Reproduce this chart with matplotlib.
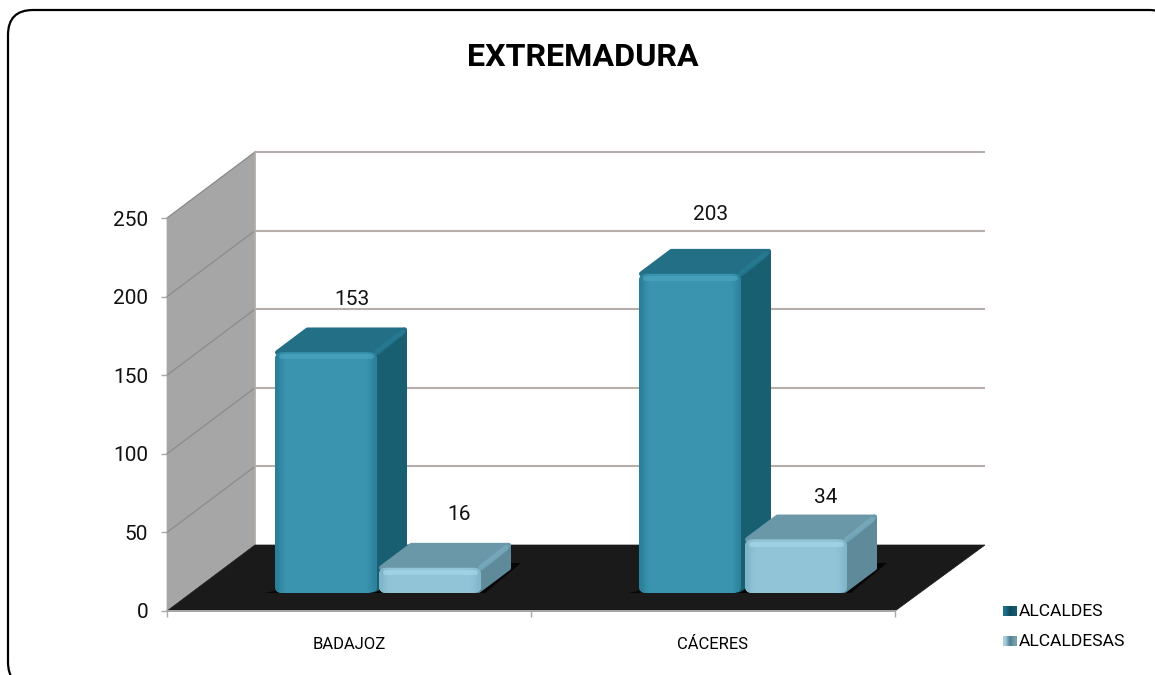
import numpy as np
import matplotlib
matplotlib.use("Agg")
import matplotlib.pyplot as plt
from matplotlib.colors import LinearSegmentedColormap
from matplotlib.patches import FancyBboxPatch, Polygon

# values
categories = ["BADAJOZ", "CÁCERES"]
series_names = ["ALCALDES", "ALCALDESAS"]
alcaldes = [153, 203]
alcaldesas = [16, 34]
y_ticks = [0, 50, 100, 150, 200, 250]

W, H = 1155, 675
plt.rcParams["font.family"] = ["Roboto", "DejaVu Sans"]

fig = plt.figure(figsize=(W / 100, H / 100), dpi=100)
fig.patch.set_facecolor("white")

# background layer in pixels, the frame runs off the right and bottom edges
bg = fig.add_axes([0, 0, 1, 1])
bg.set_xlim(0, W)
bg.set_ylim(H, 0)
bg.axis("off")
bg.add_patch(FancyBboxPatch((8, 10), 1166, 677, boxstyle="round,pad=0,rounding_size=25",
                            fc="white", ec="black", lw=1.6))

# front plane of the 3d chart: x in categories, y in chart values
left, right, bottom, top = 167, 895, 611, 218
ax = fig.add_axes([left / W, 1 - bottom / H, (right - left) / W, (bottom - top) / H])
ax.set_xlim(0, 2)
ax.set_ylim(0, 250)
ax.patch.set_alpha(0)
for s in ax.spines.values():
    s.set_visible(False)

# one pixel expressed in data units
px_x = 2 / (right - left)
px_y = 250 / (bottom - top)
depth_x = 88 * px_x
depth_y = 66 * px_y
clip = dict(clip_on=False)

# wall and floor
ax.add_patch(Polygon([(0, 0), (depth_x, depth_y), (depth_x, 250 + depth_y), (0, 250)],
                     fc="#a6a6a6", ec="#a6a6a6", lw=0.5, zorder=1, **clip))
ax.add_patch(Polygon([(0, 0), (depth_x, depth_y), (2 + 90 * px_x, depth_y), (2, 0)],
                     fc="#1a1a1a", ec="#1a1a1a", lw=0.5, zorder=2, **clip))
ax.plot([0, 2], [0, 0], color="#a8a8a8", lw=1.4, zorder=3, **clip)

# gridlines on the back wall and across the side wall
for v in y_ticks:
    if v > 0:
        ax.plot([depth_x, 2 + 90 * px_x], [v + depth_y, v + depth_y], color="#b5aeaa", lw=1.5,
                zorder=1.5, solid_capstyle="butt", **clip)
        ax.plot([0, depth_x], [v, v + depth_y], color="#8c8c8c", lw=0.9, zorder=1.5, **clip)
ax.plot([depth_x, depth_x], [depth_y, 250 + depth_y], color="#b5aeaa", lw=1.2, zorder=1.5, **clip)


def bar3d(x_px, value, c_front, c_top, c_side, c_edge, c_high, z):
    # bar front sits 18 px up the floor, sizes are pixels turned into data units
    x0 = (x_px - left) * px_x
    w = 102 * px_x
    y0 = 18 * px_y
    y1 = y0 + value
    dx = 30 * px_x
    dy = 25 * px_y
    ix = 2.5 * px_x
    iy = 2.5 * px_y
    # soft shadow on the floor
    ax.add_patch(Polygon([(x0 - 10 * px_x, y0), (x0 + w + 4 * px_x, y0),
                          (x0 + w + dx + 10 * px_x, y0 + dy + 5 * px_y), (x0 + w + dx - 10 * px_x, y0 + dy + 5 * px_y)],
                         fc="black", ec="none", alpha=0.75, zorder=z, **clip))
    # side and top, inset polygons with thick round joins make soft corners
    ax.add_patch(Polygon([(x0 + w - ix, y0 + iy), (x0 + w + dx - ix, y0 + dy), (x0 + w + dx - ix, y1 + dy - iy),
                          (x0 + w - ix, y1 - iy)],
                         fc=c_side, ec=c_side, lw=3.6, joinstyle="round", zorder=z + 0.1, **clip))
    ax.add_patch(Polygon([(x0 + ix, y1), (x0 + dx + ix, y1 + dy - iy), (x0 + w + dx - ix, y1 + dy - iy),
                          (x0 + w - ix, y1)],
                         fc=c_top, ec=c_top, lw=3.6, joinstyle="round", zorder=z + 0.2, **clip))
    # lighter bevel along the top right edge
    ax.plot([x0 + w, x0 + w + dx - 5 * px_x], [y1, y1 + dy - 5 * px_y], color=c_edge, lw=4,
            alpha=0.55, solid_capstyle="round", zorder=z + 0.25, **clip)
    # front face: rounded box filled with a horizontal gradient
    box = FancyBboxPatch((x0, y0), w, value, boxstyle="round,pad=0,rounding_size=%f" % (7 * px_x),
                         mutation_aspect=px_y / px_x, fc=c_front, ec="none", zorder=z + 0.3, **clip)
    ax.add_patch(box)
    ramp = np.array([0.0, 0.6] + [1] * 20 + [0.6, 0.2])[None, :]
    cmap = LinearSegmentedColormap.from_list("f", [c_edge, c_front])
    im = ax.imshow(ramp, extent=(x0, x0 + w, y0, y1), cmap=cmap, vmin=0, vmax=1, aspect="auto",
                   interpolation="bilinear", zorder=z + 0.35)
    im.set_clip_path(box)
    # highlight along the top of the front face
    ax.plot([x0 + 6 * px_x, x0 + w - 6 * px_x], [y1 - 4 * px_y, y1 - 4 * px_y], color=c_high, lw=3.5,
            alpha=0.7, solid_capstyle="round", zorder=z + 0.4, **clip)


dark = dict(c_front="#3a94b0", c_top="#226f86", c_side="#195f72", c_edge="#2a7f99", c_high="#4aa5c0")
light = dict(c_front="#92c4d8", c_top="#6a98a8", c_side="#5f8a9a", c_edge="#7fb5c9", c_high="#a5d7ea")

bars_x = [[275, 379], [639, 745]]
label_off = [[(77, 53), (80, 53)], [(72, 59), (81, 42)]]
ax.set_autoscale_on(False)
for i in range(2):
    bar3d(bars_x[i][0], alcaldes[i], z=4, **dark)
    bar3d(bars_x[i][1], alcaldesas[i], z=5, **light)
    for x_px, val, off in zip(bars_x[i], [alcaldes[i], alcaldesas[i]], label_off[i]):
        ax.annotate(str(val), ((x_px - left) * px_x, 18 * px_y + val), xytext=(off[0] * 0.72, off[1] * 0.72),
                    textcoords="offset points", ha="center", va="center", fontsize=15, color="#111111",
                    annotation_clip=False, zorder=10)

# axes ticks
ax.set_yticks(y_ticks)
ax.set_xticks([0, 1, 2])
ax.set_xticklabels([])
ax.tick_params(axis="both", length=4.5, width=1, color="#a8a8a8", labelsize=15, labelcolor="#111111", pad=9)
ax.set_xticks([0.5, 1.5], categories, minor=True)
ax.tick_params(axis="x", which="minor", length=0, labelsize=12, pad=19)

# title
fig.text(582.5 / W, 1 - 57 / H, "EXTREMADURA", ha="center", va="center", fontsize=23.2,
         fontweight="bold", family=["Roboto", "DejaVu Sans"], color="black")

# legend with small gradient swatches
for name, yy, c0, c1 in zip(series_names, [611, 641], ["#1f6f88", "#a9cfdd"], ["#0e4a5c", "#4f7f90"]):
    sw = fig.add_axes([1003 / W, 1 - (yy + 5) / H, 14 / W, 10 / H])
    sw.imshow(np.array([[0, 1, 0.6]]), cmap=LinearSegmentedColormap.from_list("s", [c0, c1]),
              aspect="auto", interpolation="bilinear")
    sw.axis("off")
    fig.text(1019 / W, 1 - yy / H, name, ha="left", va="center", fontsize=12.6, color="black")

fig.savefig("out.png", dpi=100)
